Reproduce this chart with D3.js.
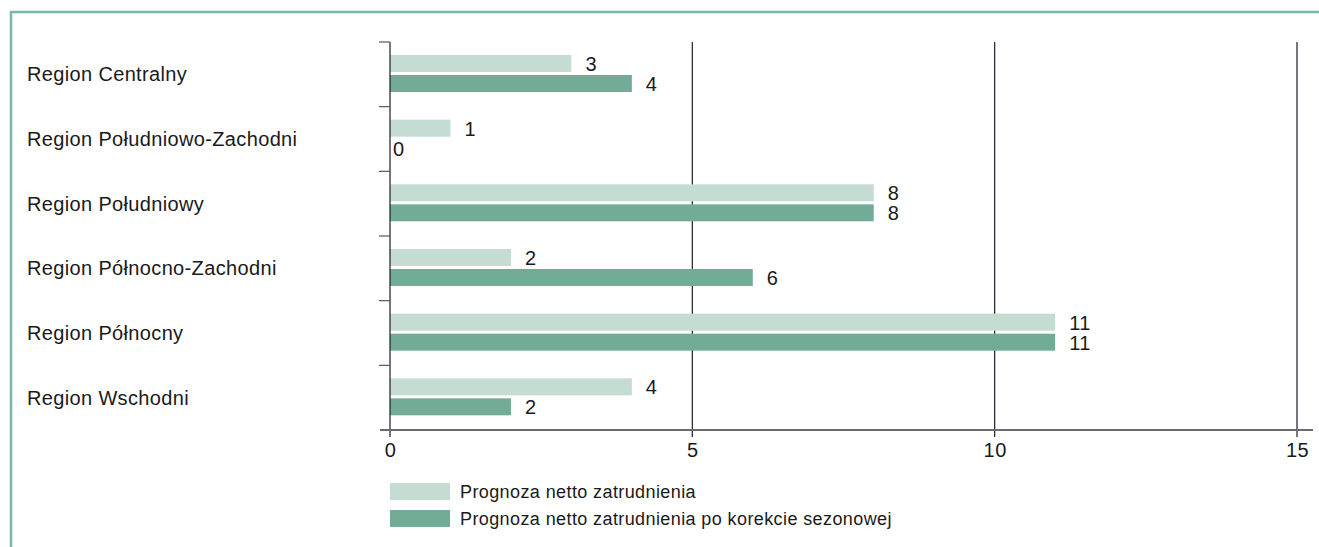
<!DOCTYPE html>
<html>
<head>
<meta charset="utf-8">
<script src="https://cdn.jsdelivr.net/npm/d3@7"></script>
<style>
	body { margin: 0; background: #fff; }
	text { font-family: "Liberation Sans", Arial, sans-serif; fill: #1a1a1a; }
</style>
</head>
<body>
<div id="chart"></div>
<script>
const regions = [
	'Region Centralny',
	'Region Południowo-Zachodni',
	'Region Południowy',
	'Region Północno-Zachodni',
	'Region Północny',
	'Region Wschodni',
];
const netForecast = [3, 1, 8, 2, 11, 4];
const adjustedForecast = [4, 0, 8, 6, 11, 2];
const xTicks = [0, 5, 10, 15];
const seriesNames = [
	'Prognoza netto zatrudnienia',
	'Prognoza netto zatrudnienia po korekcie sezonowej',
];
const colors = ['#c4dcd2', '#72ac97'];

const width = 1319;
const height = 547;

const svg = d3
	.select('#chart')
	.append('svg')
	.attr('width', width)
	.attr('height', height);

// frame
svg.append('path')
	.attr('d', `M11,${height} V12 H${width}`)
	.attr('fill', 'none')
	.attr('stroke', '#7ab8a0')
	.attr('stroke-width', 2.5);

const x = d3.scaleLinear().domain([0, 15]).range([390, 1297]);
const y = d3.scaleBand().domain(regions).range([42, 430]);

// vertical grid
svg.selectAll('.grid')
	.data(xTicks.filter((d) => d > 0))
	.enter()
	.append('line')
	.attr('x1', (d) => x(d))
	.attr('x2', (d) => x(d))
	.attr('y1', 42)
	.attr('y2', 437)
	.attr('stroke', '#1c1c2c')
	.attr('stroke-width', 1.2);

// bars
const rows = regions.map((r, i) => ({
	region: r,
	values: [netForecast[i], adjustedForecast[i]],
}));

const group = svg
	.selectAll('.row')
	.data(rows)
	.enter()
	.append('g')
	.attr('transform', (d) => `translate(0,${y(d.region)})`);

const barH = 17;
const barOffsets = [13, 33];

group.selectAll('rect')
	.data((d) => d.values)
	.enter()
	.append('rect')
	.attr('x', x(0))
	.attr('y', (d, i) => barOffsets[i])
	.attr('width', (d) => x(d) - x(0))
	.attr('height', barH)
	.attr('fill', (d, i) => colors[i]);

group.selectAll('.val')
	.data((d) => d.values)
	.enter()
	.append('text')
	.attr('class', 'val')
	.attr('x', (d) => x(d) + (d === 0 ? 3 : 14))
	.attr('y', (d, i) => barOffsets[i] + 16)
	.attr('font-size', 20)
	.attr('letter-spacing', 0.5)
	.text((d) => d);

// category labels
svg.selectAll('.cat')
	.data(regions)
	.enter()
	.append('text')
	.attr('class', 'cat')
	.attr('x', 27)
	.attr('y', (d) => y(d) + y.bandwidth() / 2 + 7)
	.attr('font-size', 20)
	.attr('letter-spacing', 0.35)
	.text((d) => d);

// y axis with category boundary ticks
svg.append('line')
	.attr('x1', x(0))
	.attr('x2', x(0))
	.attr('y1', 42)
	.attr('y2', 437)
	.attr('stroke', '#1c1c2c')
	.attr('stroke-width', 1.2);

svg.selectAll('.ytick')
	.data(regions)
	.enter()
	.append('line')
	.attr('x1', 379)
	.attr('x2', x(0))
	.attr('y1', (d) => y(d))
	.attr('y2', (d) => y(d))
	.attr('stroke', '#555566')
	.attr('stroke-width', 1.2);

// x axis
const xAxis = svg
	.append('g')
	.attr('transform', 'translate(0,430)')
	.call(d3.axisBottom(x).tickValues(xTicks).tickSize(0).tickPadding(13));
xAxis.select('.domain').remove();
xAxis.selectAll('text')
	.attr('font-size', 20)
	.attr('letter-spacing', 0.5)
	.attr('font-family', '"Liberation Sans", Arial, sans-serif')
	.attr('fill', '#1a1a1a');

svg.append('line')
	.attr('x1', 380)
	.attr('x2', 1313)
	.attr('y1', 430)
	.attr('y2', 430)
	.attr('stroke', '#6a6a72')
	.attr('stroke-width', 2);

// legend
const legend = svg
	.selectAll('.legend')
	.data(seriesNames)
	.enter()
	.append('g')
	.attr('transform', (d, i) => `translate(390,${483 + i * 27})`);

legend.append('rect')
	.attr('width', 60)
	.attr('height', 17)
	.attr('fill', (d, i) => colors[i]);

legend.append('text')
	.attr('x', 70)
	.attr('y', 15)
	.attr('font-size', 18)
	.attr('letter-spacing', 0.4)
	.text((d) => d);
</script>
</body>
</html>
